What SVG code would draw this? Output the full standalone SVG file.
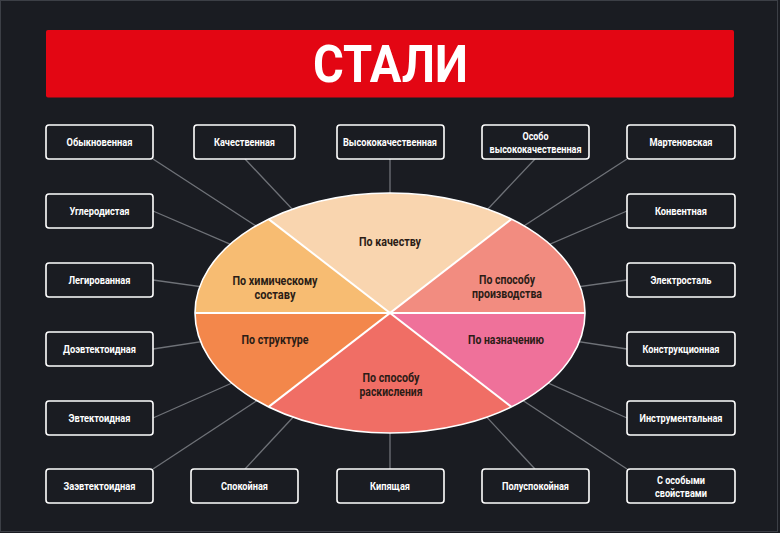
<svg xmlns="http://www.w3.org/2000/svg" width="780" height="533" viewBox="0 0 780 533">
<style>
.bg{fill:#1a1c22}
.frame{fill:none;stroke:#3c3f46;stroke-width:1}
.box{fill:#1a1c22;stroke:#ffffff;stroke-width:1.6}
.bt{font-family:Roboto,"Liberation Sans",sans-serif;font-weight:700;font-size:11px;fill:#ffffff;text-anchor:middle}
.ct{font-family:Roboto,"Liberation Sans",sans-serif;font-weight:700;font-size:12.5px;fill:#2b1c16;text-anchor:middle}
.conn line{stroke:#6f7278;stroke-width:1.3}
.div{stroke:#ffffff;stroke-width:2;fill:none}
</style>
<rect class="bg" x="0" y="0" width="780" height="533"/>
<rect class="frame" x="0.5" y="0.5" width="777" height="531"/>
<g id="title">
<rect x="46" y="30" width="688" height="67.5" rx="2" fill="#e30613"/>
<text x="390.5" y="82" font-family="Roboto,'Liberation Sans',sans-serif" font-weight="700" font-size="51" fill="#ffffff" text-anchor="middle" textLength="155" lengthAdjust="spacingAndGlyphs">СТАЛИ</text>
</g>
<g id="connectors" class="conn">
<line x1="153" y1="159" x2="390" y2="313"/>
<line x1="245" y1="159" x2="390" y2="313"/>
<line x1="390" y1="159" x2="390" y2="313"/>
<line x1="535" y1="159" x2="390" y2="313"/>
<line x1="627" y1="159" x2="390" y2="313"/>
<line x1="153" y1="211" x2="390" y2="313"/>
<line x1="153" y1="280" x2="390" y2="313"/>
<line x1="153" y1="349" x2="390" y2="313"/>
<line x1="153" y1="418" x2="390" y2="313"/>
<line x1="153" y1="469" x2="390" y2="313"/>
<line x1="627" y1="211" x2="390" y2="313"/>
<line x1="627" y1="280" x2="390" y2="313"/>
<line x1="627" y1="349" x2="390" y2="313"/>
<line x1="627" y1="418" x2="390" y2="313"/>
<line x1="627" y1="469" x2="390" y2="313"/>
<line x1="245" y1="469" x2="390" y2="313"/>
<line x1="390" y1="469" x2="390" y2="313"/>
<line x1="535" y1="469" x2="390" y2="313"/>
</g>
<g id="ellipse">
<path id="w-chem" d="M390 313 L195 313 A195 120 0 0 1 268.6 219.1 Z" fill="#f7bc72"/>
<path id="w-qual" d="M390 313 L268.6 219.1 A195 120 0 0 1 511.4 219.1 Z" fill="#f9d5af"/>
<path id="w-prod" d="M390 313 L511.4 219.1 A195 120 0 0 1 585 313 Z" fill="#f28c80"/>
<path id="w-purp" d="M390 313 L585 313 A195 120 0 0 1 511.4 406.9 Z" fill="#ef719a"/>
<path id="w-deox" d="M390 313 L511.4 406.9 A195 120 0 0 1 268.6 406.9 Z" fill="#f06e65"/>
<path id="w-str" d="M390 313 L268.6 406.9 A195 120 0 0 1 195 313 Z" fill="#f3874b"/>
<line class="div" x1="195" y1="313" x2="585" y2="313"/>
<line class="div" x1="268.6" y1="219.1" x2="511.4" y2="406.9"/>
<line class="div" x1="511.4" y1="219.1" x2="268.6" y2="406.9"/>
<ellipse cx="390" cy="313" rx="195" ry="120" fill="none" stroke="#ffffff" stroke-width="1.6"/>
<text class="ct" x="390" y="246" textLength="62" lengthAdjust="spacingAndGlyphs">По качеству</text>
<text class="ct" x="275" y="285" textLength="85" lengthAdjust="spacingAndGlyphs">По химическому</text>
<text class="ct" x="275" y="298.5" textLength="41" lengthAdjust="spacingAndGlyphs">составу</text>
<text class="ct" x="507" y="284" textLength="56" lengthAdjust="spacingAndGlyphs">По способу</text>
<text class="ct" x="507" y="298" textLength="70" lengthAdjust="spacingAndGlyphs">производства</text>
<text class="ct" x="275" y="344" textLength="67" lengthAdjust="spacingAndGlyphs">По структуре</text>
<text class="ct" x="506" y="344" textLength="76" lengthAdjust="spacingAndGlyphs">По назначению</text>
<text class="ct" x="391" y="382" textLength="57" lengthAdjust="spacingAndGlyphs">По способу</text>
<text class="ct" x="391" y="396" textLength="63" lengthAdjust="spacingAndGlyphs">раскисления</text>
</g>
<g id="n-obyk"><rect class="box" x="46" y="125" width="107" height="34" rx="3"/><text class="bt" x="99.5" y="146" textLength="66" lengthAdjust="spacingAndGlyphs">Обыкновенная</text></g>
<g id="n-kach"><rect class="box" x="194" y="125" width="101" height="34" rx="3"/><text class="bt" x="244.5" y="146" textLength="61" lengthAdjust="spacingAndGlyphs">Качественная</text></g>
<g id="n-vys"><rect class="box" x="337" y="125" width="107" height="34" rx="3"/><text class="bt" x="390" y="146" textLength="94" lengthAdjust="spacingAndGlyphs">Высококачественная</text></g>
<g id="n-osobo"><rect class="box" x="482" y="125" width="107" height="34" rx="3"/><text class="bt" x="535.5" y="139.5" textLength="26" lengthAdjust="spacingAndGlyphs">Особо</text><text class="bt" x="535.5" y="152.5" textLength="92" lengthAdjust="spacingAndGlyphs">высококачественная</text></g>
<g id="n-mart"><rect class="box" x="627" y="125" width="108" height="34" rx="3"/><text class="bt" x="681" y="146" textLength="63" lengthAdjust="spacingAndGlyphs">Мартеновская</text></g>
<g id="n-ugl"><rect class="box" x="46" y="194" width="107" height="34" rx="3"/><text class="bt" x="99.5" y="215" textLength="60" lengthAdjust="spacingAndGlyphs">Углеродистая</text></g>
<g id="n-leg"><rect class="box" x="46" y="263" width="107" height="34" rx="3"/><text class="bt" x="99.5" y="284" textLength="62" lengthAdjust="spacingAndGlyphs">Легированная</text></g>
<g id="n-doevt"><rect class="box" x="46" y="332" width="107" height="34" rx="3"/><text class="bt" x="99.5" y="353" textLength="73" lengthAdjust="spacingAndGlyphs">Доэвтектоидная</text></g>
<g id="n-evt"><rect class="box" x="46" y="401" width="107" height="34" rx="3"/><text class="bt" x="99.5" y="422" textLength="62" lengthAdjust="spacingAndGlyphs">Эвтектоидная</text></g>
<g id="n-zaevt"><rect class="box" x="46" y="469" width="107" height="34" rx="3"/><text class="bt" x="99.5" y="490" textLength="72" lengthAdjust="spacingAndGlyphs">Заэвтектоидная</text></g>
<g id="n-spok"><rect class="box" x="191" y="469" width="107" height="34" rx="3"/><text class="bt" x="244.5" y="490" textLength="47" lengthAdjust="spacingAndGlyphs">Спокойная</text></g>
<g id="n-kip"><rect class="box" x="337" y="469" width="107" height="34" rx="3"/><text class="bt" x="390" y="490" textLength="40" lengthAdjust="spacingAndGlyphs">Кипящая</text></g>
<g id="n-polu"><rect class="box" x="482" y="469" width="107" height="34" rx="3"/><text class="bt" x="535.5" y="490" textLength="67" lengthAdjust="spacingAndGlyphs">Полуспокойная</text></g>
<g id="n-osob"><rect class="box" x="627" y="469" width="108" height="34" rx="3"/><text class="bt" x="681" y="483.5" textLength="48" lengthAdjust="spacingAndGlyphs">С особыми</text><text class="bt" x="681" y="496.5" textLength="52" lengthAdjust="spacingAndGlyphs">свойствами</text></g>
<g id="n-konv"><rect class="box" x="627" y="194" width="108" height="34" rx="3"/><text class="bt" x="681" y="215" textLength="52" lengthAdjust="spacingAndGlyphs">Конвентная</text></g>
<g id="n-elek"><rect class="box" x="627" y="263" width="108" height="34" rx="3"/><text class="bt" x="681" y="284" textLength="61" lengthAdjust="spacingAndGlyphs">Электросталь</text></g>
<g id="n-konstr"><rect class="box" x="627" y="332" width="108" height="34" rx="3"/><text class="bt" x="681" y="353" textLength="77" lengthAdjust="spacingAndGlyphs">Конструкционная</text></g>
<g id="n-instr"><rect class="box" x="627" y="401" width="108" height="34" rx="3"/><text class="bt" x="681" y="422" textLength="83" lengthAdjust="spacingAndGlyphs">Инструментальная</text></g>
</svg>
